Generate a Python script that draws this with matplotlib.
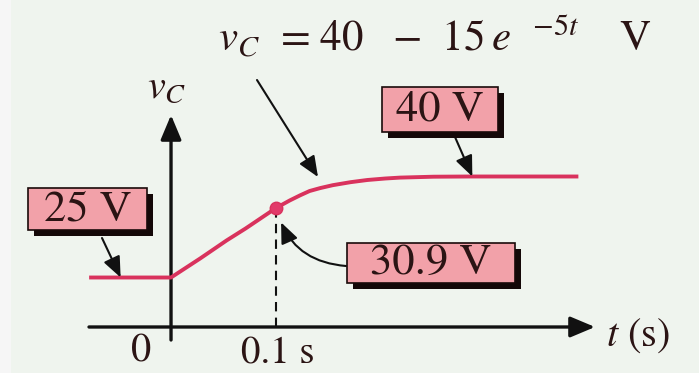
"""Capacitor voltage step response: v_C rising from 25 V to 40 V."""

import matplotlib

matplotlib.use("Agg")
import matplotlib.pyplot as plt
import numpy as np
from matplotlib.patches import Rectangle

# levels quoted on the figure
V_START = 25.0
V_FINAL = 40.0
T_MARK = 0.1
V_MARK = 30.9

# v_C(t) (t in s, v in V)
T_CURVE = [-0.078, 0.0, 0.028, 0.053, 0.071, 0.085, 0.1, 0.113, 0.123, 0.132,
           0.142, 0.154, 0.171, 0.187, 0.204, 0.218, 0.25, 0.285, 0.388]
V_CURVE = [25.0, 25.0, 26.63, 28.15, 29.16, 30.0, 30.9, 33.07, 34.57, 35.81,
           36.65, 37.49, 38.36, 38.99, 39.42, 39.68, 39.94, 40.0, 40.0]

W, H = 699, 373
BG = "#eff4ee"
RED = "#d9325d"
BOX = "#f2a1a9"
INK = "#2b1414"
SERIF = "STIXGeneral"

plt.rcParams["mathtext.fontset"] = "stix"
plt.rcParams["font.family"] = SERIF

# the voltage axis is schematic: piecewise linear through the quoted levels
V_KNOTS = np.array([0.0, V_START, V_MARK, V_FINAL])
U_KNOTS = np.array([-0.49, 0.0, 0.688, 1.0])


def _piecewise(x, xs, ys):
    x = np.asarray(x, dtype=float)
    out = np.interp(x, xs, ys)
    lo, hi = x < xs[0], x > xs[-1]
    s0 = (ys[1] - ys[0]) / (xs[1] - xs[0])
    s1 = (ys[-1] - ys[-2]) / (xs[-1] - xs[-2])
    out = np.where(lo, ys[0] + (x - xs[0]) * s0, out)
    out = np.where(hi, ys[-1] + (x - xs[-1]) * s1, out)
    return out


def fwd(v):
    return _piecewise(v, V_KNOTS, U_KNOTS)


def inv(u):
    return _piecewise(u, U_KNOTS, V_KNOTS)


def px(x, y):
    """Pixel position -> figure fraction."""
    return (x / W, 1 - y / H)


fig = plt.figure(figsize=(W / 100, H / 100), dpi=100, facecolor=BG)
ax = fig.add_axes([0, 0, 1, 1])
ax.set_facecolor(BG)
ax.set_yscale("function", functions=(fwd, inv))
ax.set_xlim(-0.1629, 0.5029)
ax.set_ylim(float(inv(-0.9455)), float(inv(2.7475)))
ax.axis("off")

# faint scan strip on the left edge
fig.add_artist(Rectangle((0, 0), 11 / W, 1, transform=fig.transFigure,
                         facecolor="#f6f6f6", edgecolor="none", zorder=0))

# axes with arrow heads
axis_arrow = dict(arrowstyle="-|>,head_length=1.0,head_width=0.42", lw=2.4,
                  color="#111111", mutation_scale=15, shrinkA=0, shrinkB=0)
ax.annotate("", xy=(0, 1 - 115 / H), xytext=(0, 1 - 340 / H),
            xycoords=ax.get_xaxis_transform(), arrowprops=axis_arrow, zorder=3)
ax.annotate("", xy=(595 / W, 0), xytext=(89 / W, 0),
            xycoords=ax.get_yaxis_transform(), arrowprops=axis_arrow, zorder=3)

# response curve, marker and dashed drop line
ax.plot(T_CURVE, V_CURVE, color=RED, lw=2.8, solid_capstyle="butt",
        solid_joinstyle="round", zorder=4)
ax.plot([T_MARK, T_MARK], [0, V_MARK], color="#111111", lw=1.5,
        linestyle=(0, (4.5, 3)), zorder=2)
ax.plot([T_MARK], [V_MARK], "o", color="#e23a6a", ms=9, mec=RED, zorder=5)

# text
formula = (r"$v_C\hspace{0.5}{=}\hspace{0.1}40\hspace{0.95}{-}\hspace{0.65}15"
           r"\hspace{0.22}e^{\hspace{0.9}{-}5t}\hspace{1.3}\mathrm{V}$")
ax.text(*px(218, 52), formula, transform=fig.transFigure, fontsize=31,
        color=INK, ha="left", va="baseline")
ax.text(*px(167, 88), r"$v_C$", transform=fig.transFigure, fontsize=29,
        color=INK, ha="center", va="center")
ax.text(*px(141, 352), "0", transform=fig.transFigure, fontsize=29,
        color=INK, ha="center", va="center")
ax.text(*px(278, 354), "0.1 s", transform=fig.transFigure, fontsize=28,
        color=INK, ha="center", va="center")
ax.text(*px(606, 336), r"$t$ (s)", transform=fig.transFigure, fontsize=29,
        color=INK, ha="left", va="center")


def label_box(x0, y0, x1, y1, text):
    shadow = 6
    fig.add_artist(Rectangle(px(x0 + shadow, y1 + shadow),
                             (x1 - x0) / W, (y1 - y0) / H,
                             transform=fig.transFigure, facecolor="#140808",
                             edgecolor="none", zorder=6))
    fig.add_artist(Rectangle(px(x0, y1), (x1 - x0) / W, (y1 - y0) / H,
                             transform=fig.transFigure, facecolor=BOX,
                             edgecolor="#1a0a0a", lw=1.2, zorder=7))
    fig.text(*px((x0 + x1) / 2, (y0 + y1) / 2 + 1), text, fontsize=32,
             color=INK, ha="center", va="center", zorder=8)


label_box(28, 188, 147, 230, f"{V_START:g} V")
label_box(382, 87, 498, 132, f"{V_FINAL:g} V")
label_box(347, 243, 515, 283, f"{V_MARK:g} V")

pointer = dict(arrowstyle="-|>,head_length=0.9,head_width=0.38", lw=1.5,
               color="#111111", mutation_scale=14, shrinkA=0, shrinkB=0)
ax.annotate("", xy=(-0.048, V_START), xytext=px(102, 238),
            textcoords="figure fraction", arrowprops=pointer, zorder=6)
ax.annotate("", xy=(0.287, V_FINAL), xytext=px(455, 137),
            textcoords="figure fraction", arrowprops=pointer, zorder=6)
ax.annotate("", xy=px(318, 177), xytext=px(257, 80),
            xycoords="figure fraction", textcoords="figure fraction",
            arrowprops=pointer, zorder=6)
ax.annotate("", xy=(T_MARK, V_MARK), xytext=px(346, 266),
            textcoords="figure fraction",
            arrowprops=dict(pointer, shrinkB=11,
                            connectionstyle="arc3,rad=-0.35"), zorder=6)

fig.savefig("out.png", dpi=100, facecolor=BG)
